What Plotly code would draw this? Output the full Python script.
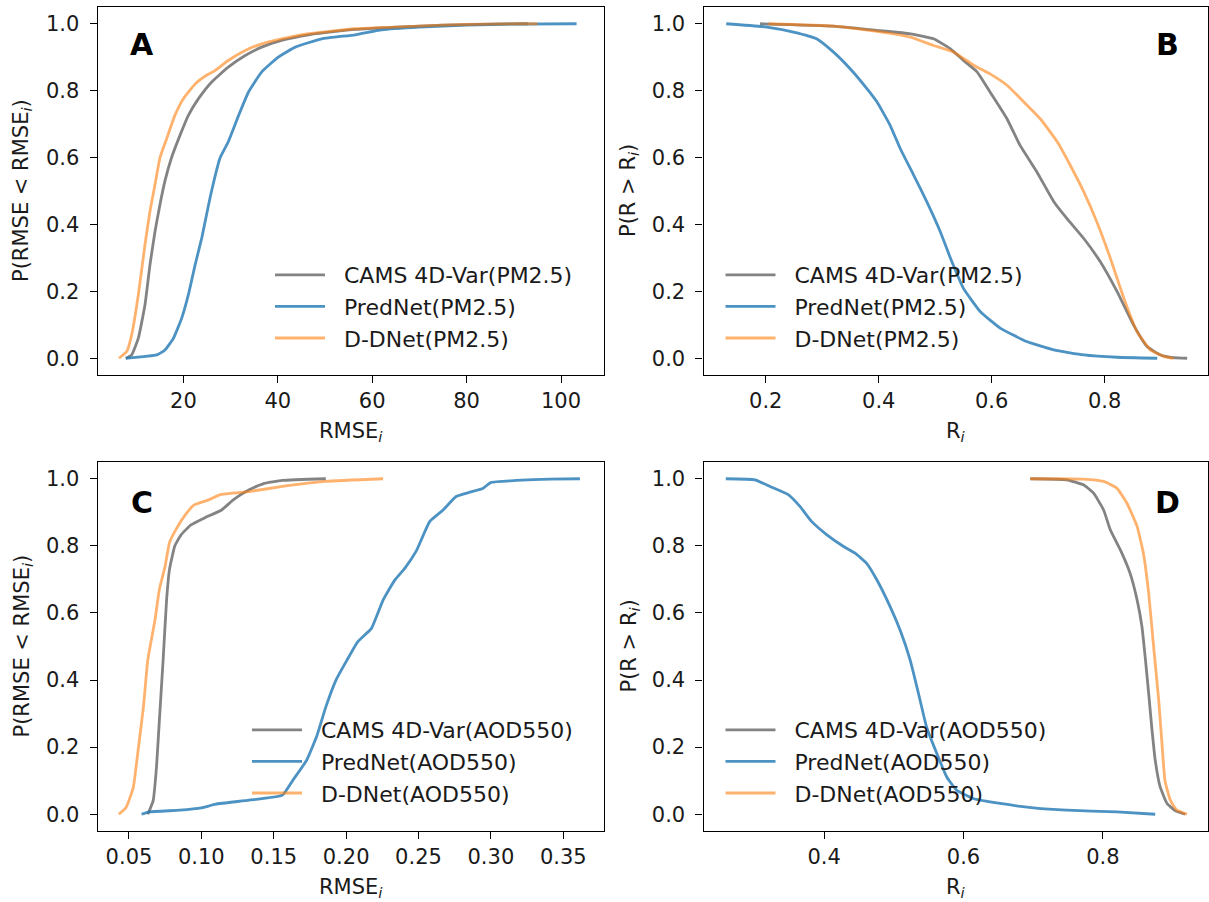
import plotly.graph_objects as go

# ---------------- data ----------------
# Panel A: CDF of RMSE for PM2.5
A_cams_x = [7.8, 9.05, 10.46, 11.87, 12.93, 14.0, 15.05, 16.1, 17.5, 19.3, 21.06, 23.2, 26.0, 29.5, 33.1, 36.6, 40.8, 46.5, 56.4, 65.0, 75.0, 85.0, 93.0]
A_cams_y = [0.0, 0.01, 0.06, 0.16, 0.28, 0.38, 0.46, 0.53, 0.60, 0.667, 0.726, 0.776, 0.826, 0.87, 0.905, 0.93, 0.95, 0.967, 0.983, 0.99, 0.996, 0.999, 1.0]
A_pred_x = [7.8, 14.35, 16.1, 17.9, 19.65, 21.06, 22.5, 23.9, 25.65, 27.8, 29.5, 31.7, 33.8, 36.6, 40.1, 43.7, 49.3, 56.4, 62.0, 70.0, 80.0, 90.0, 103.3]
A_pred_y = [0.0, 0.01, 0.025, 0.06, 0.12, 0.19, 0.28, 0.36, 0.48, 0.60, 0.647, 0.726, 0.796, 0.856, 0.90, 0.93, 0.955, 0.967, 0.982, 0.99, 0.996, 0.999, 1.0]
A_ddnet_x = [6.36, 8.0, 9.05, 10.46, 11.87, 12.93, 14.0, 15.05, 16.47, 18.2, 20.0, 22.5, 24.9, 26.7, 29.5, 33.1, 36.6, 40.8, 46.5, 56.4, 65.0, 75.0, 85.0, 95.0]
A_ddnet_y = [0.0, 0.02, 0.07, 0.19, 0.34, 0.44, 0.52, 0.60, 0.657, 0.726, 0.776, 0.82, 0.846, 0.86, 0.89, 0.92, 0.94, 0.955, 0.97, 0.985, 0.99, 0.996, 0.999, 1.0]

# Panel B: exceedance of R for PM2.5
B_cams_x = [0.19, 0.32, 0.397, 0.456, 0.497, 0.527, 0.55, 0.574, 0.597, 0.627, 0.65, 0.68, 0.71, 0.733, 0.763, 0.792, 0.822, 0.851, 0.875, 0.899, 0.922, 0.946]
B_cams_y = [1.0, 0.993, 0.98, 0.97, 0.955, 0.925, 0.89, 0.856, 0.796, 0.716, 0.637, 0.557, 0.468, 0.418, 0.358, 0.289, 0.199, 0.10, 0.035, 0.01, 0.002, 0.0]
B_pred_x = [0.13, 0.202, 0.249, 0.29, 0.32, 0.349, 0.379, 0.397, 0.42, 0.438, 0.462, 0.485, 0.509, 0.527, 0.55, 0.58, 0.615, 0.662, 0.71, 0.763, 0.822, 0.893]
B_pred_y = [1.0, 0.99, 0.975, 0.955, 0.915, 0.866, 0.806, 0.766, 0.697, 0.627, 0.547, 0.468, 0.378, 0.299, 0.209, 0.139, 0.09, 0.05, 0.025, 0.01, 0.003, 0.0]
B_ddnet_x = [0.205, 0.32, 0.397, 0.456, 0.497, 0.533, 0.568, 0.597, 0.627, 0.657, 0.686, 0.716, 0.739, 0.763, 0.786, 0.81, 0.834, 0.857, 0.881, 0.905, 0.922]
B_ddnet_y = [1.0, 0.993, 0.977, 0.96, 0.935, 0.915, 0.876, 0.85, 0.816, 0.766, 0.716, 0.647, 0.577, 0.4975, 0.408, 0.299, 0.179, 0.08, 0.025, 0.005, 0.0]

# Panel C: CDF of RMSE for AOD550
C_cams_x = [0.063, 0.0667, 0.069, 0.071, 0.0736, 0.076, 0.078, 0.0817, 0.086, 0.093, 0.102, 0.114, 0.122, 0.133, 0.1426, 0.156, 0.186]
C_cams_y = [0.0, 0.04, 0.14, 0.28, 0.46, 0.64, 0.73, 0.80, 0.833, 0.863, 0.883, 0.907, 0.937, 0.967, 0.985, 0.995, 1.0]
C_pred_x = [0.0587, 0.064, 0.085, 0.10, 0.11, 0.133, 0.156, 0.163, 0.1726, 0.1795, 0.186, 0.193, 0.20, 0.208, 0.2175, 0.2256, 0.2336, 0.2405, 0.2486, 0.2578, 0.267, 0.276, 0.2855, 0.2947, 0.30, 0.3177, 0.341, 0.3615]
C_pred_y = [0.0, 0.007, 0.012, 0.019, 0.03, 0.042, 0.057, 0.10, 0.16, 0.23, 0.32, 0.40, 0.455, 0.514, 0.554, 0.639, 0.698, 0.733, 0.786, 0.873, 0.907, 0.947, 0.96, 0.972, 0.989, 0.995, 0.999, 1.0]
C_ddnet_x = [0.043, 0.048, 0.053, 0.056, 0.06, 0.063, 0.068, 0.071, 0.075, 0.078, 0.083, 0.089, 0.095, 0.105, 0.1127, 0.133, 0.156, 0.186, 0.2256]
C_ddnet_y = [0.0, 0.02, 0.08, 0.18, 0.32, 0.46, 0.58, 0.67, 0.74, 0.81, 0.853, 0.893, 0.922, 0.937, 0.952, 0.962, 0.977, 0.992, 1.0]

# Panel D: exceedance of R for AOD550
D_cams_x = [0.6957, 0.748, 0.772, 0.7866, 0.801, 0.8105, 0.825, 0.839, 0.849, 0.856, 0.861, 0.8656, 0.87, 0.875, 0.882, 0.892, 0.904, 0.918]
D_cams_y = [1.0, 0.997, 0.982, 0.957, 0.907, 0.848, 0.788, 0.718, 0.639, 0.559, 0.46, 0.36, 0.26, 0.161, 0.082, 0.032, 0.01, 0.0]
D_pred_x = [0.259, 0.301, 0.3225, 0.349, 0.3656, 0.382, 0.404, 0.428, 0.4445, 0.461, 0.4756, 0.4947, 0.509, 0.5234, 0.5354, 0.547, 0.5617, 0.576, 0.59, 0.614, 0.6526, 0.7005, 0.748, 0.82, 0.875]
D_pred_y = [1.0, 0.997, 0.977, 0.952, 0.917, 0.873, 0.833, 0.798, 0.778, 0.748, 0.699, 0.619, 0.549, 0.46, 0.36, 0.26, 0.181, 0.111, 0.072, 0.047, 0.032, 0.019, 0.012, 0.007, 0.0]
D_ddnet_x = [0.6957, 0.772, 0.801, 0.82, 0.8345, 0.849, 0.858, 0.8656, 0.8727, 0.88, 0.8847, 0.889, 0.8967, 0.906, 0.9206]
D_ddnet_y = [1.0, 0.999, 0.992, 0.972, 0.927, 0.858, 0.778, 0.659, 0.4995, 0.34, 0.21, 0.10, 0.042, 0.012, 0.0]

panel_letters = ["A", "B", "C", "D"]
species = ["PM2.5", "PM2.5", "AOD550", "AOD550"]
model_names = ["CAMS 4D-Var", "PredNet", "D-DNet"]

# ---------------- styling ----------------
W, H = 1209, 902
FONT = "DejaVu Sans"
TICK_SIZE = 21
TEXT_SIZE = 21
LEG_SIZE = 22
colors = ["rgba(100,100,100,0.8)", "rgba(31,119,180,0.8)", "rgba(255,127,14,0.6)"]
NB = "\u00a0\u00a0"

def px(x):
    return x / W

def py(y):
    return 1 - y / H

# axes boxes in pixels (left, right, top, bottom)
boxes = [
    (97.7, 603.5, 7.0, 375.0),
    (703.5, 1207.5, 7.0, 375.0),
    (97.7, 603.5, 462.0, 831.0),
    (703.5, 1207.5, 462.0, 831.0),
]
xranges = [[1.85, 109.0], [0.0898, 0.982], [0.0284, 0.3778], [0.227, 0.950]]
xticks = [[20, 40, 60, 80, 100], [0.2, 0.4, 0.6, 0.8],
          [0.05, 0.10, 0.15, 0.20, 0.25, 0.30, 0.35], [0.4, 0.6, 0.8]]
xtickfmt = ["d", ".1f", ".2f", ".1f"]

panels = [
    [(A_cams_x, A_cams_y), (A_pred_x, A_pred_y), (A_ddnet_x, A_ddnet_y)],
    [(B_cams_x, B_cams_y), (B_pred_x, B_pred_y), (B_ddnet_x, B_ddnet_y)],
    [(C_cams_x, C_cams_y), (C_pred_x, C_pred_y), (C_ddnet_x, C_ddnet_y)],
    [(D_cams_x, D_cams_y), (D_pred_x, D_pred_y), (D_ddnet_x, D_ddnet_y)],
]

fig = go.Figure()
layout = dict(
    width=W, height=H,
    margin=dict(l=0, r=0, t=0, b=0),
    paper_bgcolor="white", plot_bgcolor="white",
    font=dict(family=FONT, size=TEXT_SIZE, color="black"),
    showlegend=True,
)

# legend positions: (handle left px, first row center px)
legend_pos = [(274, 273), (724.5, 273), (251, 728), (724.5, 728)]

annotations = []
for i, series in enumerate(panels):
    n = i + 1
    xa = "x" if n == 1 else f"x{n}"
    ya = "y" if n == 1 else f"y{n}"
    lg = "legend" if n == 1 else f"legend{n}"
    for j, (xs, ys) in enumerate(series):
        fig.add_trace(go.Scatter(
            x=xs, y=ys, mode="lines",
            line=dict(color=colors[j], width=2.8, shape="spline", smoothing=0.4),
            name=f"{NB}{model_names[j]}({species[i]})",
            xaxis=xa, yaxis=ya, legend=lg, legendgroup=f"g{n}{j}",
            showlegend=True,
        ))
    l, r, t, b = boxes[i]
    axcommon = dict(showline=True, linecolor="black", linewidth=1.2, mirror=True,
                    ticks="outside", ticklen=7, tickwidth=1.2, tickcolor="black",
                    showgrid=False, zeroline=False,
                    tickfont=dict(family=FONT, size=TICK_SIZE, color="#1a1a1a"))
    layout[f"xaxis{'' if n == 1 else n}"] = dict(
        domain=[px(l), px(r)], anchor=ya, range=xranges[i],
        tickmode="array", tickvals=xticks[i], tickformat=xtickfmt[i], **axcommon)
    layout[f"yaxis{'' if n == 1 else n}"] = dict(
        domain=[py(b), py(t)], anchor=xa, range=[-0.05, 1.05],
        tickmode="array", tickvals=[0, 0.2, 0.4, 0.6, 0.8, 1.0], tickformat=".1f",
        ticklabelstandoff=6, **axcommon)
    hx, hy = legend_pos[i]
    layout[lg] = dict(
        x=px(hx - 4), y=py(hy - 19), xanchor="left", yanchor="top",
        bgcolor="rgba(0,0,0,0)", borderwidth=0, itemwidth=50,
        tracegroupgap=0, font=dict(family=FONT, size=LEG_SIZE, color="#1a1a1a"),
    )
    # panel letters
    letter_x = 142 if i % 2 == 0 else 1167
    letter_y = 44 if i < 2 else 502
    annotations.append(dict(text=f"<b>{panel_letters[i]}</b>", x=px(letter_x), y=py(letter_y),
                            xref="paper", yref="paper", showarrow=False,
                            font=dict(family=FONT, size=30, color="black"),
                            xanchor="center", yanchor="middle"))
    # axis titles
    is_r = (i % 2 == 1)
    xt = "R<sub><i>i</i></sub>" if is_r else "RMSE<sub><i>i</i></sub>"
    yt = "P(R > R<sub><i>i</i></sub>)" if is_r else "P(RMSE < RMSE<sub><i>i</i></sub>)"
    cx = (l + r) / 2
    annotations.append(dict(text=xt, x=px(cx), y=py(b + 57), xref="paper", yref="paper",
                            showarrow=False, font=dict(family=FONT, size=TEXT_SIZE, color="#1a1a1a"),
                            xanchor="center", yanchor="middle"))
    ytx = 22 if i % 2 == 0 else 629
    annotations.append(dict(text=yt, x=px(ytx), y=py((t + b) / 2), xref="paper", yref="paper",
                            showarrow=False, textangle=-90,
                            font=dict(family=FONT, size=TEXT_SIZE, color="#1a1a1a"),
                            xanchor="center", yanchor="middle"))

layout["annotations"] = annotations
fig.update_layout(**layout)
fig.write_html("out.html")
